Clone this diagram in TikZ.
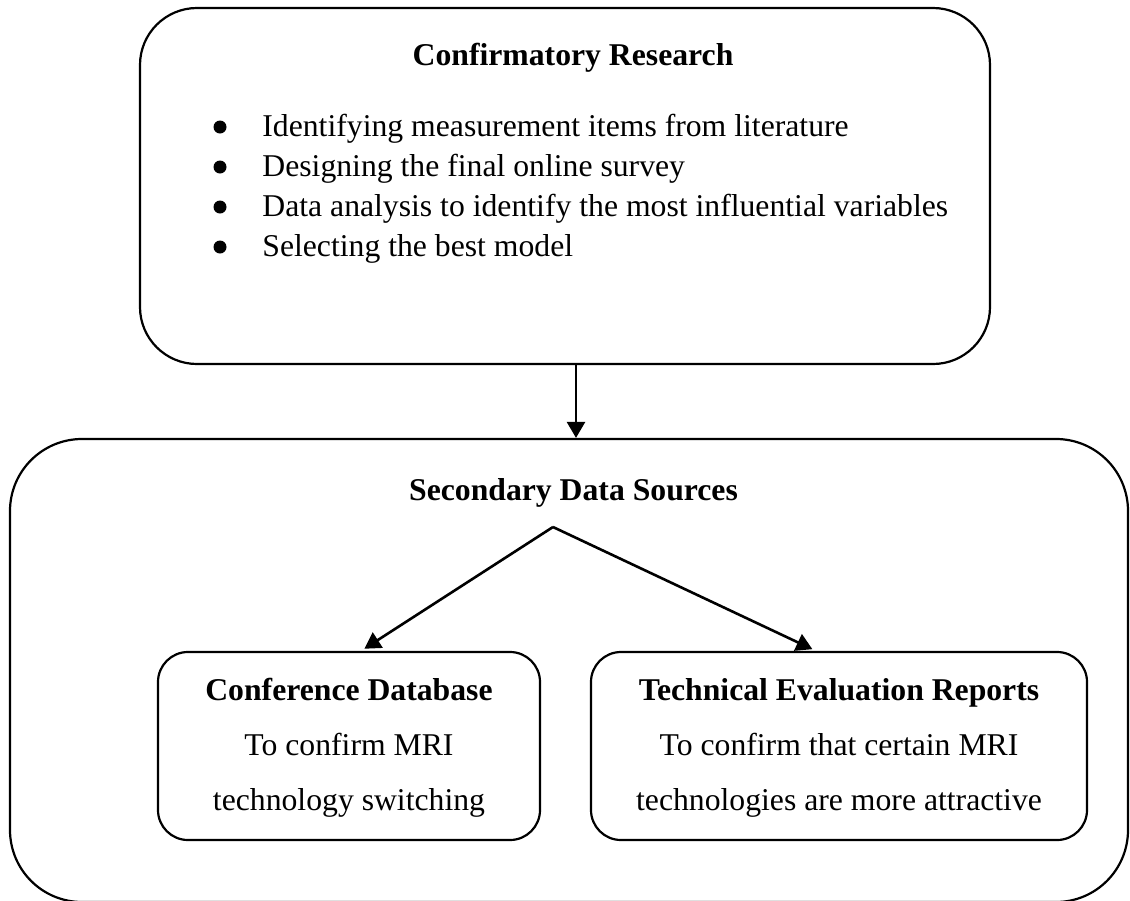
\documentclass[tikz,border=0pt]{standalone}
\usepackage{fontspec}
\setmainfont{Liberation Serif}
\usetikzlibrary{arrows.meta}
\begin{document}
\begin{tikzpicture}[x=0.5pt,y=-0.5pt,
  box/.style={draw, line width=1.1pt, rectangle, inner sep=0pt},
  arr/.style={line width=1.3pt, -{Triangle[length=8pt,width=9pt]}},
  dot/.style={circle, fill, inner sep=0pt, minimum size=6.5pt},
  txt/.style={anchor=base, inner sep=0pt, font=\fontsize{15.85pt}{19pt}\selectfont},
  ttl/.style={txt, font=\fontsize{15.85pt}{19pt}\selectfont\bfseries},
  btxt/.style={txt, anchor=base west}]
\useasboundingbox (0,0) rectangle (1130,900);
% boxes
\node (top) [box, rounded corners=28.5pt, minimum width=425pt, minimum height=178pt] at (565,186) {};
\node (bot) [box, rounded corners=36pt, minimum width=559pt, minimum height=231.5pt] at (569,670.5) {};
\node (lbox) [box, rounded corners=15pt, minimum width=191pt, minimum height=94pt] at (349,746) {};
\node (rbox) [box, rounded corners=15pt, minimum width=248pt, minimum height=94pt] at (839,746) {};
% top box text
\node (t1) [ttl] at (573,65) {Confirmatory Research};
\node (b1) [dot] at (220,127) {};
\node (b2) [dot] at (220,167) {};
\node (b3) [dot] at (220,207) {};
\node (b4) [dot] at (220,247) {};
\node (i1) [btxt] at (262,136) {Identifying measurement items from literature};
\node (i2) [btxt] at (262,176) {Designing the final online survey};
\node (i3) [btxt] at (262,216) {Data analysis to identify the most influential variables};
\node (i4) [btxt] at (262,256) {Selecting the best model};
% bottom box text
\node (t2) [ttl] at (573.5,500) {Secondary Data Sources};
\node (l1) [ttl] at (349,700) {Conference Database};
\node (l2) [txt] at (349,755) {To confirm MRI};
\node (l3) [txt] at (349,810) {technology switching};
\node (r1) [ttl] at (839,700) {Technical Evaluation Reports};
\node (r2) [txt] at (839,755) {To confirm that certain MRI};
\node (r3) [txt] at (839,810) {technologies are more attractive};
% connectors
\coordinate (ax) at (576,0);
\coordinate (apex) at (553,527);
\draw[arr] (top.south -| ax) -- (bot.north -| ax);
\draw[arr, shorten >=2pt] (apex) -- ([xshift=6pt]lbox.north);
\draw[arr, shorten >=2pt] (apex) -- ([xshift=-11.5pt]rbox.north);
\end{tikzpicture}
\end{document}
